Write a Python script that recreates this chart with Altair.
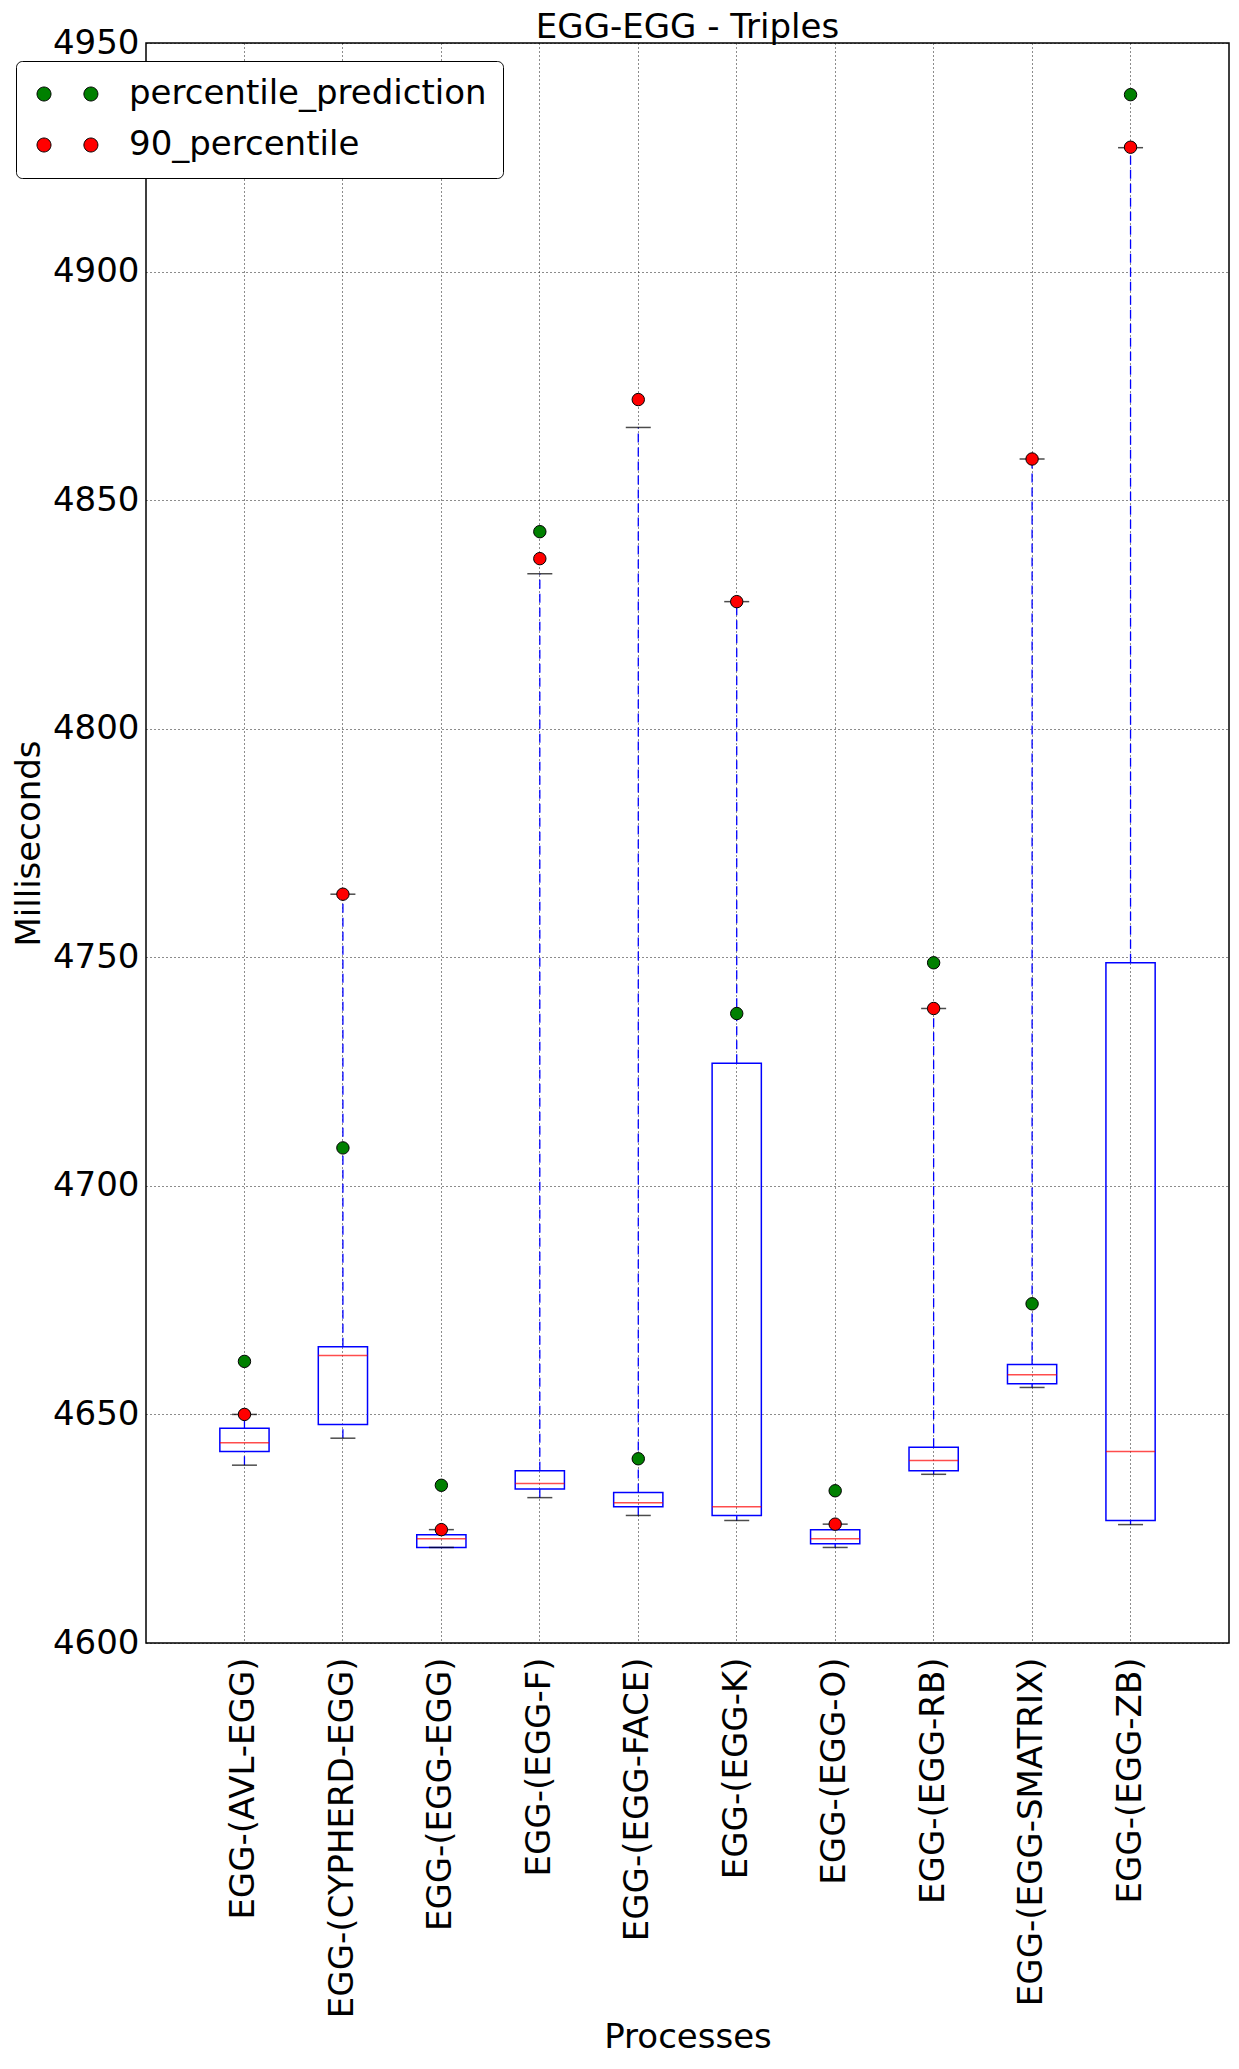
import altair as alt
import pandas as pd

categories = ["EGG-(AVL-EGG)", "EGG-(CYPHERD-EGG)", "EGG-(EGG-EGG)", "EGG-(EGG-F)",
              "EGG-(EGG-FACE)", "EGG-(EGG-K)", "EGG-(EGG-O)", "EGG-(EGG-RB)",
              "EGG-(EGG-SMATRIX)", "EGG-(EGG-ZB)"]
whisker_low = [4638.9, 4644.8, 4620.9, 4631.8, 4627.9, 4626.8, 4620.9, 4636.9, 4655.9, 4625.9]
q1 = [4641.9, 4647.8, 4620.9, 4633.7, 4629.8, 4627.9, 4621.7, 4637.7, 4656.7, 4626.8]
median = [4643.8, 4662.9, 4622.8, 4634.9, 4630.7, 4629.8, 4622.8, 4639.9, 4658.7, 4641.9]
q3 = [4647.0, 4664.8, 4623.7, 4637.7, 4632.9, 4726.8, 4624.8, 4642.8, 4660.9, 4748.8]
whisker_high = [4650.0, 4763.8, 4624.8, 4833.9, 4865.9, 4827.8, 4626.0, 4738.8, 4859.0, 4927.1]
percentile_prediction = [4661.6, 4708.3, 4634.5, 4843.1, 4640.3, 4737.7, 4633.3, 4748.8, 4674.2, 4938.7]
percentile_90 = [4650.0, 4763.8, 4624.8, 4837.2, 4872.0, 4827.8, 4626.0, 4738.8, 4859.0, 4927.2]
series_names = ["percentile_prediction", "90_percentile"]
series_colors = ["#008000", "#ff0000"]
y_ticks = [4600, 4650, 4700, 4750, 4800, 4850, 4900, 4950]

box_df = pd.DataFrame({
    "category": categories, "low": whisker_low, "q1": q1, "median": median,
    "q3": q3, "high": whisker_high,
})
pts_df = pd.DataFrame({
    "category": categories * 2,
    "value": percentile_prediction + percentile_90,
    "series": [series_names[0]] * len(categories) + [series_names[1]] * len(categories),
})

FONT = "DejaVu Sans"

x_enc = alt.X("category:N", sort=categories,
              scale=alt.Scale(paddingInner=0.5, paddingOuter=0.75),
              axis=alt.Axis(title="Processes", labelAngle=-90, labelAlign="right",
                            labelBaseline="middle", labelFontSize=34, labelPadding=14,
                            labelLimit=0, titleFontSize=34, titleFontWeight="normal",
                            titleY=404, titleBaseline="alphabetic",
                            ticks=False, domain=False, grid=True))
yscale = alt.Scale(domain=[4600, 4950], nice=False, zero=False)
yaxis = alt.Axis(values=y_ticks, labelFontSize=34, labelPadding=7, titleFontSize=34,
                 titleFontWeight="normal", titlePadding=6, ticks=False, domain=False,
                 grid=True, format="d")


def Y(field):
    return alt.Y(f"{field}:Q", scale=yscale, axis=yaxis, title="Milliseconds")


def circle_path(cx):
    k = 0.5523
    return (f"M{cx + 1},0 C{cx + 1},{k} {cx + k},1 {cx},1 C{cx - k},1 {cx - 1},{k} {cx - 1},0 "
            f"C{cx - 1},{-k} {cx - k},-1 {cx},-1 C{cx + k},-1 {cx + 1},{-k} {cx + 1},0 Z")


legend_symbol = circle_path(0) + " " + circle_path(6.7)

base = alt.Chart(box_df)
upper = base.mark_rule(color="#0000ff", strokeDash=[9, 5], strokeWidth=1.3).encode(
    x=x_enc, y=Y("q3"), y2="high")
lower = base.mark_rule(color="#0000ff", strokeDash=[9, 5], strokeWidth=1.3).encode(
    x=x_enc, y=Y("low"), y2="q1")
box = base.mark_bar(fillOpacity=0, stroke="#0000ff", strokeWidth=1.5).encode(
    x=x_enc, y=Y("q1"), y2="q3")
med = base.mark_tick(orient="horizontal", size=49, thickness=1.5, color="#ff0000").encode(
    x=x_enc, y=Y("median"))
cap_hi = base.mark_tick(orient="horizontal", size=25, thickness=1.5, color="black").encode(
    x=x_enc, y=Y("high"))
cap_lo = base.mark_tick(orient="horizontal", size=25, thickness=1.5, color="black").encode(
    x=x_enc, y=Y("low"))

points = alt.Chart(pts_df).mark_point(filled=True, size=154, stroke="black",
                                      strokeWidth=1, opacity=1).encode(
    x=x_enc, y=Y("value"),
    color=alt.Color("series:N", scale=alt.Scale(domain=series_names, range=series_colors),
                    sort=series_names,
                    legend=alt.Legend(title=None, orient="none", legendX=-130, legendY=18,
                                      symbolType=legend_symbol, symbolSize=196,
                                      symbolOffset=-5,
                                      symbolStrokeColor="black", symbolStrokeWidth=1,
                                      labelFontSize=34, labelOffset=68, labelLimit=0,
                                      padding=16, rowPadding=17, strokeColor="black",
                                      fillColor="white", cornerRadius=6)),
    order=alt.Order("series_order:Q"),
).transform_calculate(series_order="datum.series == 'percentile_prediction' ? 0 : 1")

chart = alt.layer(upper, lower, box, med, cap_hi, cap_lo, points).properties(
    width=1083, height=1600,
    autosize=alt.AutoSizeParams(type="none"),
    padding={"left": 138, "top": 35, "right": 2, "bottom": 418},
    title=alt.Title("EGG-EGG - Triples", fontSize=34, fontWeight="normal", offset=-19,
                    font=FONT, color="black"),
).configure(font=FONT).configure_view(
    stroke="black", strokeWidth=1.5
).configure_axis(
    gridColor="#000000", gridOpacity=0.9, gridDash=[1, 3], gridWidth=1,
    labelColor="black", titleColor="black", labelFont=FONT, titleFont=FONT,
).configure_legend(labelFont=FONT, labelColor="black")

chart.save("out.html", embed_options={"renderer": "svg", "actions": False})
